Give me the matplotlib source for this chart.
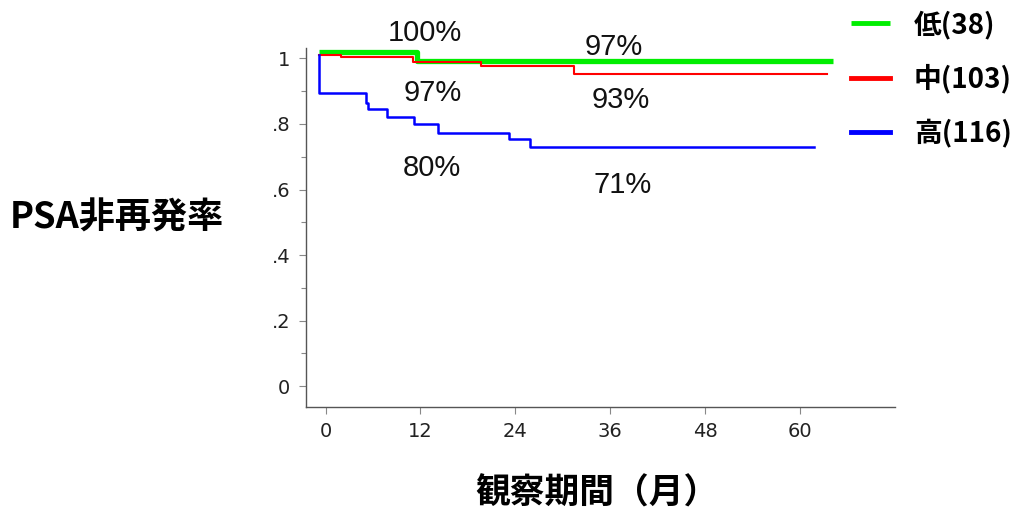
import matplotlib
matplotlib.use("Agg")
import matplotlib.pyplot as plt
from matplotlib.ticker import MultipleLocator, FixedLocator

# survival curves (months, PSA non-recurrence rate)
low_t = [-0.85, 11.6, 64.2]
low_s = [1.02, 0.992, 0.992]

mid_t = [-0.85, 1.9, 11.0, 19.7, 31.4, 63.4]
mid_s = [1.010, 1.005, 0.990, 0.977, 0.954, 0.954]

high_t = [-0.85, -0.85, 5.1, 5.4, 7.8, 11.2, 14.2, 23.2, 25.8, 61.7]
high_s = [1.01, 0.895, 0.863, 0.845, 0.822, 0.799, 0.771, 0.753, 0.730, 0.730]

group_labels = ["低(38)", "中(103)", "高(116)"]

# percent annotations: (text, month, value)
pct_labels = ["100%", "97%", "97%", "93%", "80%", "71%"]
pct_x = [12.6, 36.4, 13.5, 37.3, 13.5, 37.5]
pct_y = [1.078, 1.035, 0.895, 0.872, 0.666, 0.613]

xticks = [0, 12, 24, 36, 48, 60]
yticks = [0, 0.2, 0.4, 0.6, 0.8, 1.0]
ytick_labels = ["0", ".2", ".4", ".6", ".8", "1"]

cjk = ["Noto Sans CJK JP", "DejaVu Sans"]
narrow = ["Liberation Sans Narrow", "Liberation Sans", "DejaVu Sans"]

fig = plt.figure(figsize=(10.27, 5.11), dpi=100)
ax = fig.add_axes([0.2977, 0.204, 0.5738, 0.7015])

l1, = ax.step(low_t, low_s, where="post", color="#00ee00", lw=3.8, solid_capstyle="butt")
l2, = ax.step(mid_t, mid_s, where="post", color="#ff0000", lw=1.5)
l3, = ax.step(high_t, high_s, where="post", color="#0000ff", lw=1.8)

for txt, x, y in zip(pct_labels, pct_x, pct_y):
    ax.text(x, y, txt, ha="center", va="center", fontsize=21, family=narrow, color="#111111")

ax.set_xlim(-2.5, 72)
ax.set_ylim(-0.063, 1.031)

for side in ["top", "right"]:
    ax.spines[side].set_visible(False)
for side in ["left", "bottom"]:
    ax.spines[side].set_color("#555555")
    ax.spines[side].set_linewidth(1.0)

ax.xaxis.set_major_locator(FixedLocator(xticks))
ax.set_xticklabels([str(v) for v in xticks])
ax.yaxis.set_major_locator(FixedLocator(yticks))
ax.set_yticklabels(ytick_labels)
ax.yaxis.set_minor_locator(MultipleLocator(0.1))

ax.tick_params(axis="both", which="major", direction="out", length=5, width=0.8,
               color="#888888", labelsize=14, labelcolor="#222222", pad=6)
ax.tick_params(axis="y", which="minor", direction="out", length=3.5, width=0.8, color="#888888")
for lab in ax.get_xticklabels() + ax.get_yticklabels():
    lab.set_family("DejaVu Sans")

fig.text(0.114, 0.573, "PSA非再発率", ha="center", va="center", fontsize=26,
         family=cjk, weight="bold")
fig.text(0.581, 0.035, "観察期間（月）", ha="center", va="center", fontsize=25,
         family=cjk, weight="bold")

leg = ax.legend([l1, l2, l3], group_labels, loc="upper left",
                bbox_to_anchor=(0.829, 0.98), bbox_transform=fig.transFigure,
                frameon=False, borderpad=0, borderaxespad=0,
                handlelength=1.4, handletextpad=0.85, labelspacing=0.9,
                prop={"family": cjk, "weight": "bold", "size": 20})
for h in leg.get_lines():
    h.set_linewidth(3.5)

fig.savefig("out.png", dpi=100)
